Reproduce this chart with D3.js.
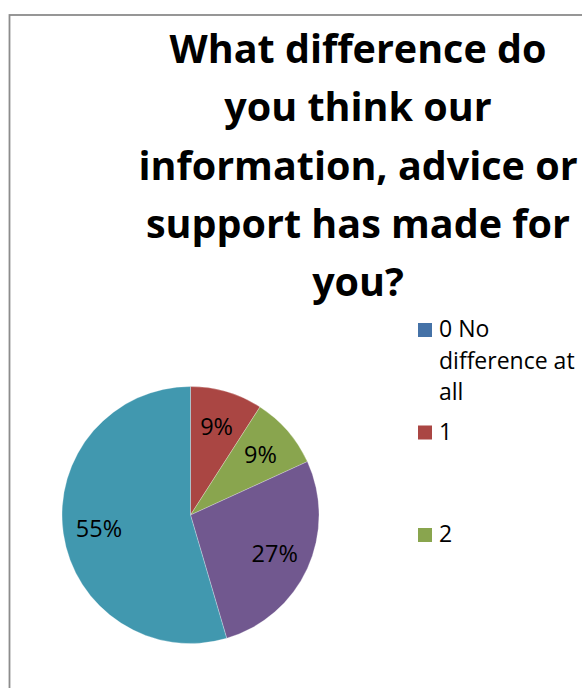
<!DOCTYPE html>
<html>
<head>
<meta charset="utf-8">
<script src="https://cdn.jsdelivr.net/npm/d3@7/dist/d3.min.js"></script>
<style>
  html, body { margin: 0; padding: 0; background: #ffffff; }
  svg { display: block; }
</style>
</head>
<body>
<svg id="chart" width="582" height="688"></svg>
<script>
// Survey answers: rating 0..4 and number of responses
const categories = ["0 No difference at all", "1", "2", "3", "4"];
const counts = [0, 1, 1, 3, 6];
const colors = ["#4572A7", "#AA4643", "#89A54E", "#71588F", "#4198AF"];
const titleLines = ["What difference do", "you think our", "information, advice or", "support has made for", "you?"];

const W = 582, H = 688;
const svg = d3.select("#chart");
const font = "'Open Sans', 'Noto Sans', sans-serif";

// Chart frame (runs off the right and bottom edges)
svg.append("rect")
  .attr("x", 9.5).attr("y", 15)
  .attr("width", W + 20).attr("height", H + 20)
  .attr("fill", "#ffffff")
  .attr("stroke", "#8c8c8c")
  .attr("stroke-width", 1.8);

// Title
const title = svg.append("g").attr("font-family", font)
  .attr("font-weight", 700).attr("font-size", 39.5).attr("fill", "#000");
title.selectAll("text").data(titleLines).join("text")
  .attr("x", 358)
  .attr("y", (d, i) => 63 + i * 58.3)
  .attr("text-anchor", "middle")
  .text(d => d);

// Pie
const cx = 190.5, cy = 515, R = 128.5;
const total = d3.sum(counts);
const pie = d3.pie().sort(null).value(d => d)(counts);
const arc = d3.arc().innerRadius(0).outerRadius(R);
const labelArc = d3.arc().innerRadius(R * 0.72).outerRadius(R * 0.72);

const g = svg.append("g").attr("transform", `translate(${cx},${cy})`);
g.selectAll("path").data(pie).join("path")
  .attr("d", arc)
  .attr("fill", (d, i) => colors[i])
  .attr("stroke", "rgba(255,255,255,0.45)")
  .attr("stroke-width", 0.6);

g.selectAll("text").data(pie.filter(d => d.value > 0)).join("text")
  .attr("transform", d => `translate(${labelArc.centroid(d)})`)
  .attr("text-anchor", "middle")
  .attr("dy", "0.36em")
  .attr("font-family", font)
  .attr("font-size", 23.5)
  .attr("fill", "#000")
  .text(d => Math.round(d.value / total * 100) + "%");

// Legend: entries spaced evenly, only those that fit the legend area are drawn
const legX = 418, legTextX = 439, legTop = 337, legStep = 102.5, legBottom = 560, lineH = 31.5, maxW = 142;
const legend = svg.append("g").attr("font-family", font).attr("font-size", 23).attr("fill", "#000");
categories.forEach((name, i) => {
  const base = legTop + i * legStep;
  if (base > legBottom) return;
  legend.append("rect")
    .attr("x", legX).attr("y", base - 14)
    .attr("width", 14).attr("height", 14)
    .attr("fill", colors[i]);
  // simple word wrap
  const words = name.split(" ");
  let line = [], lineNo = 0;
  let t = legend.append("text").attr("x", legTextX).attr("y", base);
  words.forEach(w => {
    line.push(w);
    t.text(line.join(" "));
    if (t.node().getComputedTextLength() > maxW && line.length > 1) {
      line.pop();
      t.text(line.join(" "));
      line = [w];
      lineNo++;
      t = legend.append("text").attr("x", legTextX).attr("y", base + lineNo * lineH).text(w);
    }
  });
});
</script>
</body>
</html>
